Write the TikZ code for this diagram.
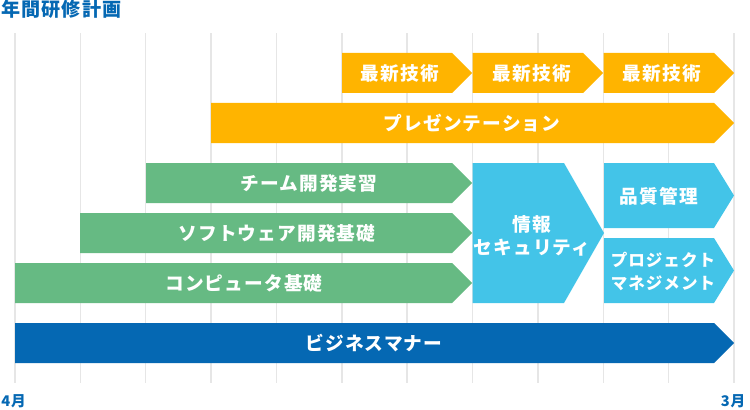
\documentclass[tikz,border=0pt]{standalone}
\usepackage{fontspec}
\setmainfont{Noto Sans CJK JP}
\newfontfamily\jpfont{Noto Sans CJK JP}[LetterSpace=6]
\definecolor{orangec}{HTML}{FFB400}
\definecolor{greenc}{HTML}{66BA83}
\definecolor{cyanc}{HTML}{43C4E8}
\definecolor{navyc}{HTML}{0568B3}
\definecolor{gridc}{HTML}{E6E6E6}
\newcommand\arrowbar[6]{\fill[#1] (#2,#3) -- ({#4-#6},#3) -- (#4,{(#3+#5)/2}) -- ({#4-#6},#5) -- (#2,#5) -- cycle;}
\begin{document}
\begin{tikzpicture}[x=0.75pt,y=-0.75pt,
  lbl/.style={text=white,font=\jpfont\bfseries\fontsize{14}{17}\selectfont,inner sep=0pt,align=center},
  axislbl/.style={text=navyc,font=\jpfont\bfseries\fontsize{11}{13}\selectfont,inner sep=0pt},
  gridline/.style={draw=gridc,line width=1.1pt}]
\useasboundingbox (0,0) rectangle (750,410);
% grid
\foreach \i in {0,...,11} {\draw[gridline] ({15+\i*65.36},33) -- ({15+\i*65.36},383);}
% bars
\arrowbar{orangec}{342}{53}{472}{93}{20}
\arrowbar{orangec}{472.5}{53}{603}{93}{20}
\arrowbar{orangec}{603.5}{53}{734}{93}{20}
\arrowbar{orangec}{211}{103}{734}{143}{20}
\arrowbar{greenc}{146}{163}{472}{203}{20}
\arrowbar{greenc}{80}{213}{472}{253}{20}
\arrowbar{greenc}{15}{263}{472}{303}{20}
\arrowbar{cyanc}{472.5}{163}{604}{303}{40}
\arrowbar{cyanc}{604}{163}{734}{228}{20}
\arrowbar{cyanc}{604}{238}{734}{303}{20}
\arrowbar{navyc}{15}{323}{734}{363}{20}
% labels
\node[lbl] (t1) at (400,73) {最新技術};
\node[lbl] (t2) at (532,73) {最新技術};
\node[lbl] (t3) at (662,73) {最新技術};
\node[lbl] (pres) at (472,123) {プレゼンテーション};
\node[lbl] (team) at (309,183) {チーム開発実習};
\node[lbl] (soft) at (277,233) {ソフトウェア開発基礎};
\node[lbl] (comp) at (244,283) {コンピュータ基礎};
\node[lbl,font=\jpfont\bfseries\fontsize{14}{17.3}\selectfont] (sec) at (532,235.5) {情報\\セキュリティ};
\node[lbl] (qual) at (659,196) {品質管理};
\node[lbl,font=\jpfont\bfseries\fontsize{12.4}{17.3}\selectfont] (pm) at (663,271.5) {プロジェクト\\マネジメント};
\node[lbl] (biz) at (374,343) {ビジネスマナー};
\node[anchor=west,inner sep=0pt,text=navyc,font=\jpfont\bfseries\fontsize{14.3}{17}\selectfont] (title) at (1,9.5) {年間研修計画};
\node[axislbl] (apr) at (13.5,401) {4月};
\node[axislbl] (mar) at (733,401) {3月};
\end{tikzpicture}
\end{document}
